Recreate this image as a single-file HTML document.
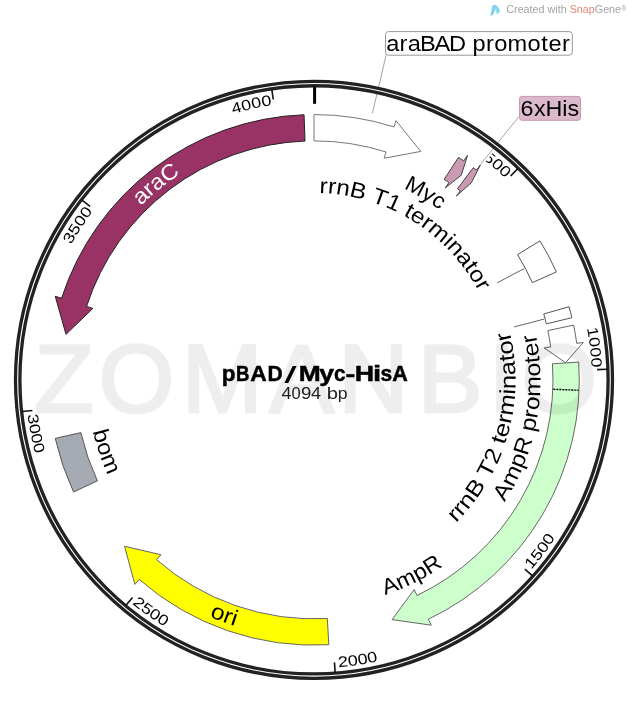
<!DOCTYPE html>
<html><head><meta charset="utf-8"><style>
html,body{margin:0;padding:0;background:#fff;}
svg{display:block;will-change:transform;font-family:"Liberation Sans", sans-serif;}
</style></head><body>
<svg width="634" height="711" viewBox="0 0 634 711">
<defs>
<path id="p1" d="M 319.40 192.93 A 187.00 187.00 0 0 1 499.12 353.37"/>
<path id="p2" d="M 403.39 188.50 A 211.20 211.20 0 0 1 490.04 263.16"/>
<path id="p3" d="M 455.90 522.91 A 201.50 201.50 0 0 0 481.07 267.20"/>
<path id="p4" d="M 504.51 502.17 A 226.40 226.40 0 0 0 506.50 260.69"/>
<path id="p5" d="M 384.96 594.95 A 226.50 226.50 0 0 0 499.00 510.53"/>
<path id="p6" d="M 209.41 616.36 A 258.60 258.60 0 0 0 323.91 638.26"/>
<path id="p7" d="M 92.92 431.37 A 227.00 227.00 0 0 0 153.18 540.05"/>
<path id="p8" d="M 140.84 205.82 A 245.50 245.50 0 0 1 258.96 140.60"/>
<path id="p9" d="M 482.58 158.92 A 277.90 277.90 0 0 1 562.79 256.04"/>
<path id="p10" d="M 587.02 327.99 A 277.90 277.90 0 0 1 579.02 463.46"/>
<path id="p11" d="M 531.23 569.70 A 288.50 288.50 0 0 0 594.89 445.69"/>
<path id="p12" d="M 338.55 667.30 A 288.50 288.50 0 0 0 470.46 622.24"/>
<path id="p13" d="M 132.10 603.78 A 288.50 288.50 0 0 0 258.33 662.93"/>
<path id="p14" d="M 27.62 414.74 A 288.50 288.50 0 0 0 77.41 544.94"/>
<path id="p15" d="M 71.13 244.79 A 277.90 277.90 0 0 1 164.04 145.88"/>
<path id="p16" d="M 232.96 114.03 A 277.90 277.90 0 0 1 368.50 107.35"/>
</defs>
<rect width="634" height="711" fill="#fff"/>
<path d="M 304.05 114.74 A 265.30 265.30 0 0 0 61.54 298.31 L 55.26 296.28 L 65.99 334.33 L 92.85 308.42 L 86.57 306.39 A 239.00 239.00 0 0 1 305.03 141.02 Z" fill="#993366" stroke="#222" stroke-width="1" stroke-linejoin="miter"/>
<path d="M 314.00 114.55 A 265.30 265.30 0 0 1 394.00 126.90 L 395.99 120.61 L 420.76 151.42 L 384.08 158.27 L 386.07 151.97 A 239.00 239.00 0 0 0 314.00 140.85 Z" fill="#ffffff" stroke="#777" stroke-width="1" stroke-linejoin="miter"/>
<path d="M 458.49 157.35 A 265.30 265.30 0 0 1 463.77 160.87 L 467.50 155.42 L 461.28 175.19 L 445.20 188.02 L 448.92 182.58 A 239.00 239.00 0 0 0 444.17 179.41 Z" fill="#cc99b2" stroke="#444" stroke-width="1" stroke-linejoin="miter"/>
<path d="M 473.29 167.69 A 265.30 265.30 0 0 1 476.42 170.08 L 480.46 164.86 L 471.31 182.79 L 456.28 196.09 L 460.32 190.88 A 239.00 239.00 0 0 0 457.50 188.73 Z" fill="#cc99b2" stroke="#444" stroke-width="1" stroke-linejoin="miter"/>
<path d="M 539.96 240.84 A 265.30 265.30 0 0 1 556.36 271.94 L 532.34 282.64 A 239.00 239.00 0 0 0 517.56 254.62 Z" fill="#ffffff" stroke="#555" stroke-width="1" stroke-linejoin="miter"/>
<path d="M 569.02 306.72 A 265.30 265.30 0 0 1 571.92 317.69 L 546.35 323.85 A 239.00 239.00 0 0 0 543.74 313.97 Z" fill="#ffffff" stroke="#555" stroke-width="1" stroke-linejoin="miter"/>
<path d="M 573.60 325.14 A 265.30 265.30 0 0 1 576.78 343.39 L 583.32 342.48 L 565.57 362.70 L 544.19 347.91 L 550.73 347.00 A 239.00 239.00 0 0 0 547.86 330.57 Z" fill="#ffffff" stroke="#666" stroke-width="1" stroke-linejoin="miter"/>
<path d="M 578.70 362.04 A 265.30 265.30 0 0 1 428.38 619.23 L 431.23 625.18 L 392.09 619.60 L 414.20 589.54 L 417.04 595.50 A 239.00 239.00 0 0 0 552.46 363.80 Z" fill="#ccffcc" stroke="#666" stroke-width="1" stroke-linejoin="miter"/>
<path d="M 328.81 644.74 A 265.30 265.30 0 0 1 139.25 579.47 L 134.90 584.43 L 124.57 546.27 L 160.92 554.71 L 156.57 559.68 A 239.00 239.00 0 0 0 327.34 618.48 Z" fill="#ffff00" stroke="#666" stroke-width="1" stroke-linejoin="miter"/>
<path d="M 73.56 491.97 A 265.30 265.30 0 0 1 55.24 438.40 L 80.89 432.60 A 239.00 239.00 0 0 0 97.39 480.86 Z" fill="#a6abb3" stroke="#555" stroke-width="1" stroke-linejoin="miter"/>
<line x1="553.32" y1="389.25" x2="578.60" y2="390.25" stroke="#000" stroke-width="1.4" stroke-dasharray="2 1"/>
<line x1="496.94" y1="282.99" x2="524.34" y2="268.48" stroke="#666" stroke-width="1"/>
<line x1="514.13" y1="326.97" x2="544.10" y2="319.05" stroke="#666" stroke-width="1"/>
<text font-size="22" fill="#000" font-weight="normal"><textPath href="#p1" textLength="196.50" lengthAdjust="spacingAndGlyphs">rrnB T1 terminator</textPath></text>
<text font-size="22" fill="#000" font-weight="normal"><textPath href="#p2" textLength="42.09" lengthAdjust="spacingAndGlyphs">Myc</textPath></text>
<text font-size="22" fill="#000" font-weight="normal"><textPath href="#p3" textLength="208.29" lengthAdjust="spacingAndGlyphs">rrnB T2 terminator</textPath></text>
<text font-size="22" fill="#000" font-weight="normal"><textPath href="#p4" textLength="175.69" lengthAdjust="spacingAndGlyphs">AmpR promoter</textPath></text>
<text font-size="22" fill="#000" font-weight="normal"><textPath href="#p5" textLength="65.25" lengthAdjust="spacingAndGlyphs">AmpR</textPath></text>
<text font-size="22" fill="#000" font-weight="normal"><textPath href="#p6" textLength="27.32" lengthAdjust="spacingAndGlyphs">ori</textPath></text>
<text font-size="22" fill="#000" font-weight="normal"><textPath href="#p7" textLength="46.63" lengthAdjust="spacingAndGlyphs">bom</textPath></text>
<text font-size="22" fill="#fff" font-weight="normal"><textPath href="#p8" textLength="51.00" lengthAdjust="spacingAndGlyphs">araC</textPath></text>
<text font-size="15" fill="#000" font-weight="normal"><textPath href="#p9" textLength="30.06" lengthAdjust="spacingAndGlyphs">500</textPath></text>
<text font-size="15" fill="#000" font-weight="normal"><textPath href="#p10" textLength="40.08" lengthAdjust="spacingAndGlyphs">1000</textPath></text>
<text font-size="15" fill="#000" font-weight="normal"><textPath href="#p11" textLength="40.08" lengthAdjust="spacingAndGlyphs">1500</textPath></text>
<text font-size="15" fill="#000" font-weight="normal"><textPath href="#p12" textLength="40.08" lengthAdjust="spacingAndGlyphs">2000</textPath></text>
<text font-size="15" fill="#000" font-weight="normal"><textPath href="#p13" textLength="40.08" lengthAdjust="spacingAndGlyphs">2500</textPath></text>
<text font-size="15" fill="#000" font-weight="normal"><textPath href="#p14" textLength="40.08" lengthAdjust="spacingAndGlyphs">3000</textPath></text>
<text font-size="15" fill="#000" font-weight="normal"><textPath href="#p15" textLength="40.08" lengthAdjust="spacingAndGlyphs">3500</textPath></text>
<text font-size="15" fill="#000" font-weight="normal"><textPath href="#p16" textLength="40.08" lengthAdjust="spacingAndGlyphs">4000</textPath></text>
<text transform="translate(221.64 380.80) scale(1.0476 1)" font-size="21.5" fill="#000" font-weight="bold" stroke="#000" stroke-width="0.45">p</text>
<text transform="translate(236.08 380.80) scale(0.8656 1)" font-size="21.5" fill="#000" font-weight="bold" stroke="#000" stroke-width="0.45">B</text>
<text transform="translate(250.16 380.80) scale(1.0642 1)" font-size="21.5" fill="#000" font-weight="bold" stroke="#000" stroke-width="0.45">A</text>
<text transform="translate(267.41 380.80) scale(0.9821 1)" font-size="21.5" fill="#000" font-weight="bold" stroke="#000" stroke-width="0.45">D</text>
<text transform="translate(298.86 380.80) scale(1.2273 1)" font-size="21.5" fill="#000" font-weight="bold" stroke="#000" stroke-width="0.45">M</text>
<text transform="translate(319.32 380.80) scale(1.2378 1)" font-size="21.5" fill="#000" font-weight="bold" stroke="#000" stroke-width="0.45">y</text>
<text transform="translate(334.12 380.80) scale(0.9583 1)" font-size="21.5" fill="#000" font-weight="bold" stroke="#000" stroke-width="0.45">c</text>
<text transform="translate(345.38 380.80) scale(1.3647 1)" font-size="21.5" fill="#000" font-weight="bold" stroke="#000" stroke-width="0.45">-</text>
<text transform="translate(354.83 380.80) scale(1.2461 1)" font-size="21.5" fill="#000" font-weight="bold" stroke="#000" stroke-width="0.45">H</text>
<text transform="translate(372.96 380.80) scale(1.3729 1)" font-size="21.5" fill="#000" font-weight="bold" stroke="#000" stroke-width="0.45">i</text>
<text transform="translate(380.39 380.80) scale(0.9739 1)" font-size="21.5" fill="#000" font-weight="bold" stroke="#000" stroke-width="0.45">s</text>
<text transform="translate(392.19 380.80) scale(1.0018 1)" font-size="21.5" fill="#000" font-weight="bold" stroke="#000" stroke-width="0.45">A</text>
<path d="M284.4 383 L288.3 383 L296.6 366 L292.7 366 Z" fill="#000"/>
<text transform="translate(281.59 399.30) scale(1.0945 1)" font-size="16.5" fill="#222" >4</text>
<text transform="translate(291.55 399.30) scale(1.0016 1)" font-size="16.5" fill="#222" >0</text>
<text transform="translate(300.93 399.30) scale(1.1284 1)" font-size="16.5" fill="#222" >9</text>
<text transform="translate(311.09 399.30) scale(1.0945 1)" font-size="16.5" fill="#222" >4</text>
<text transform="translate(326.70 399.30) scale(1.2264 1)" font-size="16.5" fill="#222" >b</text>
<text transform="translate(337.67 399.30) scale(1.0647 1)" font-size="16.5" fill="#222" >p</text>
<rect x="385.5" y="31.6" width="186.8" height="23.6" rx="3" fill="#fff" stroke="#999" stroke-width="1"/>
<text transform="translate(0 50.60) scale(1.0743 1)" x="359.49 371.96 379.51 390.98 404.38 417.98 433.50 439.75 452.43 459.97 472.43 490.97 503.85 510.63 523.12" y="0" font-size="22" fill="#000" >araBAD promoter</text>
<rect x="519.5" y="96.4" width="61" height="23.9" rx="2.5" fill="#dcb8cb" stroke="#c798b1" stroke-width="1"/>
<text transform="translate(0 115.80) scale(1.0608 1)" x="490.69 503.47 514.32 530.02 534.87" y="0" font-size="22" fill="#000" >6xHis</text>
<path d="M490.3 15.8 L492.3 6 Q492.6 5.1 493.6 5 L495.5 4.9 Q496.6 5.1 497.3 6.2 L499.8 10 Q500 10.8 499.3 12 L498.2 13.4 Q497.4 14.1 496.8 13.4 L496.1 11.2 L496.3 8.3 L493 14.6 Q492 16 490.3 15.8 Z" fill="#80d3ee"/>
<text x="506.3" y="13.3" font-size="10.3" fill="#a3a3a3" textLength="114.8" lengthAdjust="spacingAndGlyphs">Created with <tspan fill="#e2847a">Snap</tspan>Gene</text>
<text x="621.2" y="10.8" font-size="7" fill="#a3a3a3">®</text>
<line x1="385.41" y1="57.92" x2="373.54" y2="108.43" stroke="#fff" stroke-width="4.5"/>
<line x1="386.1" y1="55" x2="372.4" y2="113.3" stroke="#a8a498" stroke-width="1"/>
<line x1="517.12" y1="118.84" x2="483.53" y2="160.60" stroke="#fff" stroke-width="4.5"/>
<line x1="519" y1="116.5" x2="480.4" y2="164.5" stroke="#a8a498" stroke-width="1"/>
<circle cx="314.0" cy="379.85" r="296.3" fill="none" stroke="#222" stroke-width="7.7"/>
<circle cx="314.0" cy="379.85" r="296.3" fill="none" stroke="#fff" stroke-width="1.1"/>
<line x1="314.6" y1="86.5" x2="314.6" y2="103.8" stroke="#000" stroke-width="3"/>
<line x1="517.76" y1="168.61" x2="510.68" y2="175.95" stroke="#111" stroke-width="1.6"/>
<line x1="607.31" y1="369.27" x2="597.12" y2="369.63" stroke="#111" stroke-width="1.6"/>
<line x1="532.45" y1="575.86" x2="524.86" y2="569.05" stroke="#111" stroke-width="1.6"/>
<line x1="335.15" y1="672.59" x2="334.42" y2="662.41" stroke="#111" stroke-width="1.6"/>
<line x1="125.99" y1="605.23" x2="132.53" y2="597.40" stroke="#111" stroke-width="1.6"/>
<line x1="22.22" y1="411.54" x2="32.36" y2="410.44" stroke="#111" stroke-width="1.6"/>
<line x1="81.99" y1="200.09" x2="90.05" y2="206.34" stroke="#111" stroke-width="1.6"/>
<line x1="271.81" y1="89.40" x2="273.27" y2="99.49" stroke="#111" stroke-width="1.6"/>
<g opacity="0.063"><text x="34.42" y="411.7" font-size="97.09" fill="#000" stroke="#000" stroke-width="3.0" stroke-linejoin="round">Z</text><text x="98.80" y="411.7" font-size="97.09" fill="#000" stroke="#000" stroke-width="3.0" stroke-linejoin="round">O</text><text x="181.84" y="411.7" font-size="97.09" fill="#000" stroke="#000" stroke-width="3.0" stroke-linejoin="round">M</text><text x="269.31" y="411.7" font-size="97.09" fill="#000" stroke="#000" stroke-width="3.0" stroke-linejoin="round">A</text><text x="338.14" y="411.7" font-size="97.09" fill="#000" stroke="#000" stroke-width="3.0" stroke-linejoin="round">N</text><text x="417.74" y="411.7" font-size="97.09" fill="#000" stroke="#000" stroke-width="3.0" stroke-linejoin="round">B</text><text x="488.64" y="411.7" font-size="97.09" fill="#000" stroke="#000" stroke-width="3.0" stroke-linejoin="round">I</text><text x="521.40" y="411.7" font-size="97.09" fill="#000" stroke="#000" stroke-width="3.0" stroke-linejoin="round">O</text></g>
</svg>
</body></html>
